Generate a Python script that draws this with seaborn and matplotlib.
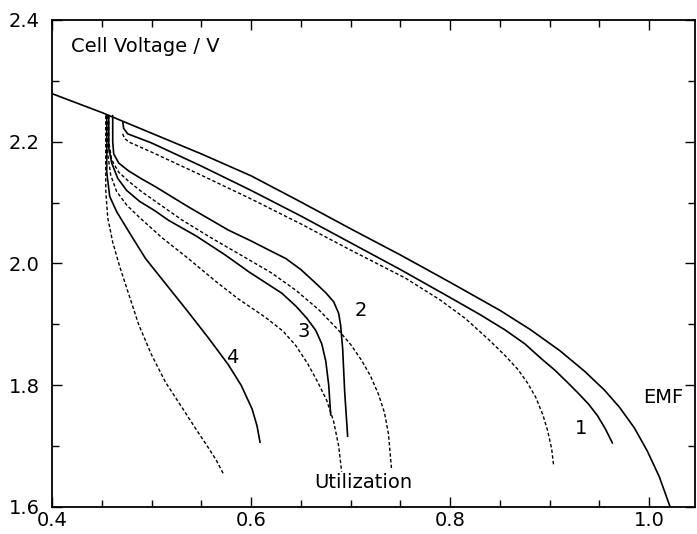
import numpy as np
import pandas as pd
import matplotlib
matplotlib.use('Agg')
import matplotlib.pyplot as plt
from matplotlib.ticker import MultipleLocator, FuncFormatter
import seaborn as sns

# EMF curve
emf_x = [0.400, 0.450, 0.500, 0.550, 0.600, 0.650, 0.700, 0.750, 0.800, 0.850, 0.880, 0.910,
         0.935, 0.955, 0.970, 0.985, 0.998, 1.010, 1.021]
emf_y = [2.279, 2.248, 2.214, 2.180, 2.144, 2.101, 2.057, 2.014, 1.969, 1.923, 1.892, 1.857,
         1.823, 1.792, 1.764, 1.730, 1.692, 1.650, 1.600]

# curve 1 (solid and dashed)
c1_x = [0.471, 0.472, 0.476, 0.500, 0.550, 0.600, 0.650, 0.700, 0.750, 0.800, 0.830, 0.855,
        0.875, 0.892, 0.905, 0.917, 0.928, 0.939, 0.948, 0.956, 0.963]
c1_y = [2.233, 2.222, 2.213, 2.198, 2.160, 2.120, 2.078, 2.034, 1.990, 1.944, 1.916, 1.891,
        1.868, 1.843, 1.825, 1.806, 1.788, 1.769, 1.750, 1.728, 1.705]
c1d_x = [0.471, 0.473, 0.478, 0.500, 0.550, 0.600, 0.650, 0.700, 0.755, 0.790, 0.815, 0.838,
         0.855, 0.868, 0.878, 0.886, 0.893, 0.898, 0.902, 0.904]
c1d_y = [2.213, 2.205, 2.199, 2.183, 2.145, 2.106, 2.065, 2.022, 1.976, 1.940, 1.910, 1.876,
         1.849, 1.826, 1.803, 1.780, 1.752, 1.725, 1.695, 1.667]

# curve 2
c2_x = [0.461, 0.461, 0.462, 0.467, 0.477, 0.490, 0.504, 0.520, 0.537, 0.557, 0.577, 0.600,
        0.618, 0.635, 0.650, 0.664, 0.675, 0.683, 0.688, 0.690, 0.692, 0.694, 0.697]
c2_y = [2.243, 2.200, 2.180, 2.165, 2.152, 2.139, 2.126, 2.110, 2.093, 2.074, 2.055, 2.037,
        2.022, 2.008, 1.990, 1.969, 1.952, 1.937, 1.918, 1.898, 1.860, 1.790, 1.716]
c2d_x = [0.457, 0.457, 0.460, 0.467, 0.477, 0.490, 0.510, 0.531, 0.560, 0.598, 0.620, 0.645,
         0.668, 0.688, 0.700, 0.711, 0.720, 0.728, 0.734, 0.738, 0.741]
c2d_y = [2.243, 2.200, 2.170, 2.150, 2.135, 2.118, 2.095, 2.071, 2.042, 2.006, 1.985, 1.956,
         1.924, 1.890, 1.867, 1.841, 1.815, 1.785, 1.755, 1.720, 1.664]

# curve 3
c3_x = [0.457, 0.457, 0.460, 0.466, 0.475, 0.488, 0.503, 0.517, 0.545, 0.574, 0.598, 0.615,
        0.631, 0.645, 0.656, 0.665, 0.671, 0.675, 0.678, 0.680]
c3_y = [2.243, 2.190, 2.165, 2.140, 2.120, 2.102, 2.087, 2.071, 2.045, 2.014, 1.986, 1.968,
        1.951, 1.930, 1.910, 1.890, 1.868, 1.840, 1.800, 1.751]
c3d_x = [0.456, 0.456, 0.459, 0.465, 0.475, 0.487, 0.510, 0.537, 0.565, 0.587, 0.614, 0.632,
         0.645, 0.657, 0.667, 0.676, 0.683, 0.688, 0.691]
c3d_y = [2.243, 2.180, 2.145, 2.118, 2.096, 2.077, 2.043, 2.008, 1.970, 1.942, 1.912, 1.889,
         1.865, 1.835, 1.805, 1.775, 1.740, 1.700, 1.658]

# curve 4
c4_x = [0.455, 0.455, 0.458, 0.465, 0.478, 0.494, 0.515, 0.536, 0.557, 0.577, 0.590, 0.601,
        0.606, 0.609]
c4_y = [2.243, 2.150, 2.110, 2.085, 2.050, 2.008, 1.965, 1.922, 1.878, 1.834, 1.800, 1.761,
        1.733, 1.706]
c4d_x = [0.454, 0.454, 0.456, 0.461, 0.468, 0.477, 0.487, 0.500, 0.514, 0.530, 0.545, 0.556,
         0.565, 0.572]
c4d_y = [2.243, 2.120, 2.075, 2.035, 1.995, 1.950, 1.900, 1.850, 1.805, 1.765, 1.727, 1.700,
         1.677, 1.655]

solid = [(emf_x, emf_y), (c1_x, c1_y), (c2_x, c2_y), (c3_x, c3_y), (c4_x, c4_y)]
dashed = [(c1d_x, c1d_y), (c2d_x, c2d_y), (c3d_x, c3d_y), (c4d_x, c4d_y)]

# text labels
labels = ['1', '2', '3', '4', 'EMF', 'Utilization']
label_x = [0.931, 0.710, 0.653, 0.581, 1.014, 0.713]
label_y = [1.729, 1.922, 1.888, 1.845, 1.780, 1.640]

sns.set_style('ticks')
plt.rcParams['font.family'] = ['DejaVu Sans']
plt.rcParams['text.color'] = 'black'
plt.rcParams['xtick.color'] = 'black'
plt.rcParams['ytick.color'] = 'black'

fig = plt.figure(figsize=(6.97, 5.34), dpi=100)
ax = fig.add_axes([0.0746, 0.0506, 0.9226, 0.912])

for xs, ys in solid:
    sns.lineplot(x=xs, y=ys, ax=ax, sort=False, estimator=None, color='black', lw=1.2)
for xs, ys in dashed:
    sns.lineplot(x=xs, y=ys, ax=ax, sort=False, estimator=None, color='black', lw=1.0,
                 linestyle=(0, (2.5, 1.6)))

for t, x, y in zip(labels, label_x, label_y):
    ax.text(x, y, t, fontsize=14, ha='center', va='center', color='black')

ax.text(0.419, 2.356, 'Cell Voltage / V', fontsize=14, ha='left', va='center', color='black')

ax.set_xlim(0.4, 1.046)
ax.set_ylim(1.6, 2.4)
ax.xaxis.set_major_locator(MultipleLocator(0.2))
ax.xaxis.set_minor_locator(MultipleLocator(0.05))
ax.yaxis.set_major_locator(MultipleLocator(0.2))
ax.yaxis.set_minor_locator(MultipleLocator(0.1))
ax.xaxis.set_major_formatter(FuncFormatter(lambda v, p: f'{v:.1f}'))
ax.yaxis.set_major_formatter(FuncFormatter(lambda v, p: f'{v:.1f}'))
ax.tick_params(which='both', direction='in', top=True, right=True, width=1.0, colors='black',
               labelsize=14)
ax.tick_params(axis='x', which='major', length=7, pad=3)
ax.tick_params(axis='x', which='minor', length=5)
ax.tick_params(axis='y', which='major', length=7, pad=9)
ax.tick_params(axis='y', which='minor', length=5)
for s in ax.spines.values():
    s.set_linewidth(1.3)
    s.set_color('black')

fig.savefig('out.png', dpi=100)
